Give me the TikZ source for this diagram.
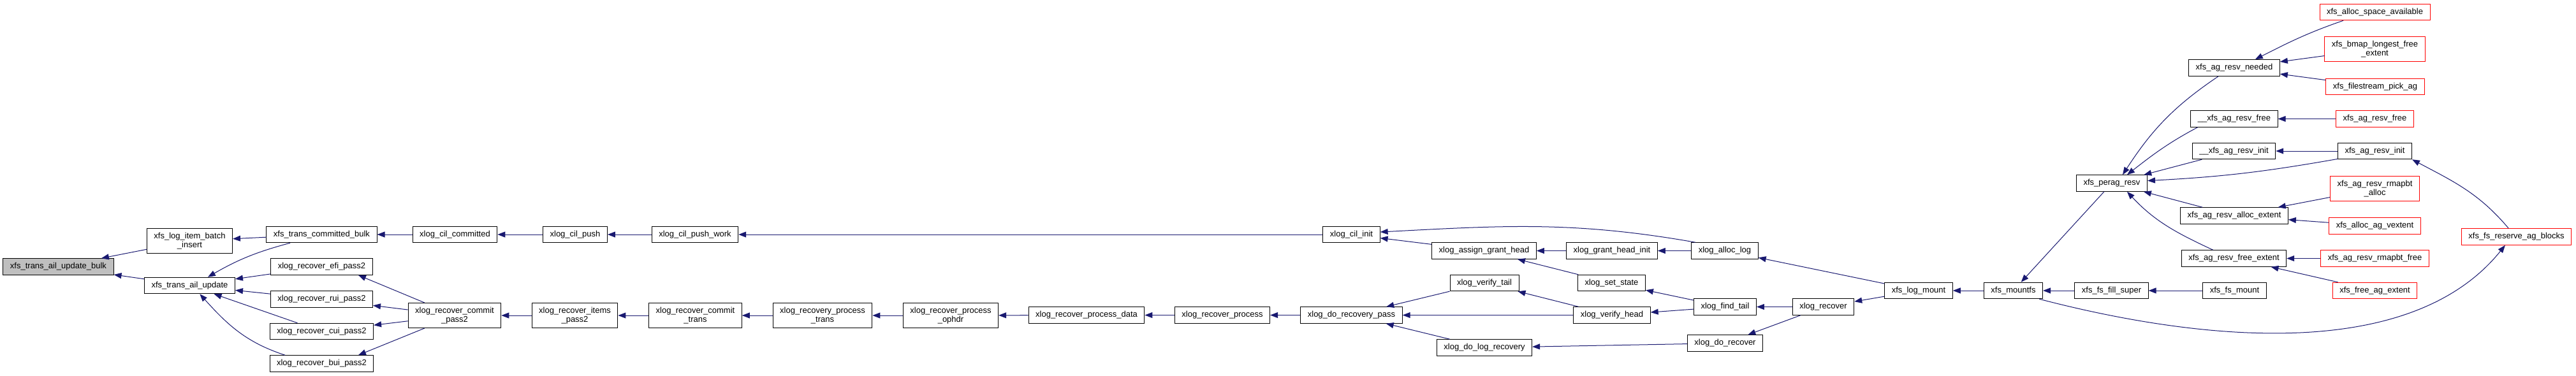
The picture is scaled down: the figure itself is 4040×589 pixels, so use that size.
\documentclass[tikz,border=0pt]{standalone}
\usepackage{fontspec}
\setmainfont{Liberation Sans}
\usetikzlibrary{arrows.meta}
\definecolor{edgeblue}{HTML}{191970}
\definecolor{boxgray}{HTML}{BFBFBF}
\tikzset{fn/.style={draw=black,line width=1pt,fill=white,font=\fontsize{13}{14}\selectfont,inner xsep=11pt,inner ysep=6.5pt,minimum height=25.5pt,align=center},
  trunc/.style={fn,draw=red},
  call/.style={draw=edgeblue,line width=1pt,{Triangle[length=12pt,width=9pt]}-}}
\begin{document}
\begin{tikzpicture}[x=1pt,y=-1pt]
\useasboundingbox (0,0) rectangle (4040,589);
\node[fn,fill=boxgray] (bulk) at (91.5,418.5){xfs\_trans\_ail\_update\_bulk};
\node[fn] (batch) at (297.5,378){xfs\_log\_item\_batch\\\_insert};\node[fn] (ailupd) at (297.5,448){xfs\_trans\_ail\_update};
\node[fn] (cbulk) at (504.5,368){xfs\_trans\_committed\_bulk};\node[fn] (efi) at (504.5,418.5){xlog\_recover\_efi\_pass2};
\node[fn] (rui) at (504.5,469.5){xlog\_recover\_rui\_pass2};\node[fn] (cui) at (504.5,520){xlog\_recover\_cui\_pass2};
\node[fn] (bui) at (504.5,570.5){xlog\_recover\_bui\_pass2};
\node[fn] (cilcom) at (713.5,368){xlog\_cil\_committed};\node[fn] (cpass2) at (713,495){xlog\_recover\_commit\\\_pass2};
\node[fn] (cilpush) at (902,368){xlog\_cil\_push};\node[fn] (ipass2) at (901.5,495){xlog\_recover\_items\\\_pass2};
\node[fn] (pushwork) at (1090,368){xlog\_cil\_push\_work};\node[fn] (ctrans) at (1090.5,495){xlog\_recover\_commit\\\_trans};
\node[fn] (ptrans) at (1290,495){xlog\_recovery\_process\\\_trans};\node[fn] (ophdr) at (1491,495){xlog\_recover\_process\\\_ophdr};
\node[fn] (pdata) at (1704,494.5){xlog\_recover\_process\_data};\node[fn] (rproc) at (1917,494.5){xlog\_recover\_process};
\node[fn] (cilinit) at (2119.5,368){xlog\_cil\_init};\node[fn] (dopass) at (2119.5,494.5){xlog\_do\_recovery\_pass};
\node[fn] (agh) at (2327.5,393.5){xlog\_assign\_grant\_head};\node[fn] (vtail) at (2328,444){xlog\_verify\_tail};
\node[fn] (dologrec) at (2328,545.5){xlog\_do\_log\_recovery};
\node[fn] (ghi) at (2528,393.5){xlog\_grant\_head\_init};\node[fn] (setstate) at (2527.5,444){xlog\_set\_state};
\node[fn] (vhead) at (2528,494.5){xlog\_verify\_head};
\node[fn] (alloclog) at (2705,393.5){xlog\_alloc\_log};\node[fn] (findtail) at (2705.5,481.5){xlog\_find\_tail};
\node[fn] (dorecover) at (2705.5,538.5){xlog\_do\_recover};\node[fn] (xrecover) at (2859.5,481.5){xlog\_recover};
\node[fn] (logmount) at (3009,456){xfs\_log\_mount};\node[fn] (mountfs) at (3157.5,456){xfs\_mountfs};
\node[fn] (fillsuper) at (3311.5,456){xfs\_fs\_fill\_super};\node[fn] (fsmount) at (3504.5,456){xfs\_fs\_mount};
\node[fn] (perag) at (3312,287.5){xfs\_perag\_resv};\node[fn] (needed) at (3504,106.5){xfs\_ag\_resv\_needed};
\node[trunc] (allocspace) at (3724.5,19){xfs\_alloc\_space\_available};\node[trunc] (bmap) at (3724.5,77){xfs\_bmap\_longest\_free\\\_extent};
\node[trunc] (filestream) at (3725,136){xfs\_filestream\_pick\_ag};
\node[fn] (uresvfree) at (3504,186.5){\_\_xfs\_ag\_resv\_free};\node[trunc] (resvfree) at (3724.5,186.5){xfs\_ag\_resv\_free};
\node[fn] (uresvinit) at (3503.5,237){\_\_xfs\_ag\_resv\_init};\node[fn] (resvinit) at (3724.5,237){xfs\_ag\_resv\_init};
\node[trunc] (rmapalloc) at (3724.5,296){xfs\_ag\_resv\_rmapbt\\\_alloc};
\node[fn] (allocext) at (3504,338.5){xfs\_ag\_resv\_alloc\_extent};\node[trunc] (vextent) at (3724.5,354.5){xfs\_alloc\_ag\_vextent};
\node[fn] (freeext) at (3503.5,405.5){xfs\_ag\_resv\_free\_extent};\node[trunc] (rmapfree) at (3724.5,405.5){xfs\_ag\_resv\_rmapbt\_free};
\node[trunc] (freeag) at (3724.5,456){xfs\_free\_ag\_extent};\node[trunc] (reserve) at (3946.5,371.5){xfs\_fs\_reserve\_ag\_blocks};
\foreach \a/\b in {bulk/batch,bulk/ailupd,batch/cbulk,ailupd/efi,ailupd/rui,ailupd/cui,cbulk/cilcom,rui/cpass2,cui/cpass2,cilcom/cilpush,cilpush/pushwork,pushwork/cilinit,cpass2/ipass2,ipass2/ctrans,ctrans/ptrans,ptrans/ophdr,ophdr/pdata,pdata/rproc,rproc/dopass,cilinit/agh,agh/ghi,agh/setstate,ghi/alloclog,dopass/vtail,dopass/vhead,dopass/dologrec,vtail/vhead,setstate/findtail,vhead/findtail,findtail/xrecover,dologrec/dorecover,dorecover/xrecover,alloclog/logmount,xrecover/logmount,logmount/mountfs,mountfs/perag,mountfs/fillsuper,fillsuper/fsmount,needed/bmap,needed/filestream,uresvfree/resvfree,uresvinit/resvinit,perag/uresvinit,perag/allocext,allocext/rmapalloc,allocext/vextent,freeext/rmapfree,freeext/freeag}{\draw[call] (\a) -- (\b);}
\draw[call] (ailupd.25) to[out=30,in=195] (cbulk.195);\draw[call] (ailupd.-40) to[out=-48,in=162] (bui.167);
\draw[call] (efi.-13) -- (cpass2.157);\draw[call] (bui.13) -- (cpass2.203);
\draw[call] (cilinit.5) to[out=3,in=170] (alloclog.164);
\draw[call] (perag.38) to[out=57,in=214] (needed.208);\draw[call] (perag.29) to[out=38,in=208] (uresvfree.193);
\draw[call] (perag.4) to[out=3,in=190] (resvinit.192);\draw[call] (perag.-29) to[out=-47,in=155] (freeext.158);
\draw[call] (needed.22) to[out=27,in=199] (allocspace.195);
\draw[call] (resvinit.south east) to[out=-28,in=130] (reserve.133);
\draw[call] (reserve.217) .. controls (3780,570) and (3450,535) .. (mountfs.-18);
\end{tikzpicture}
\end{document}
